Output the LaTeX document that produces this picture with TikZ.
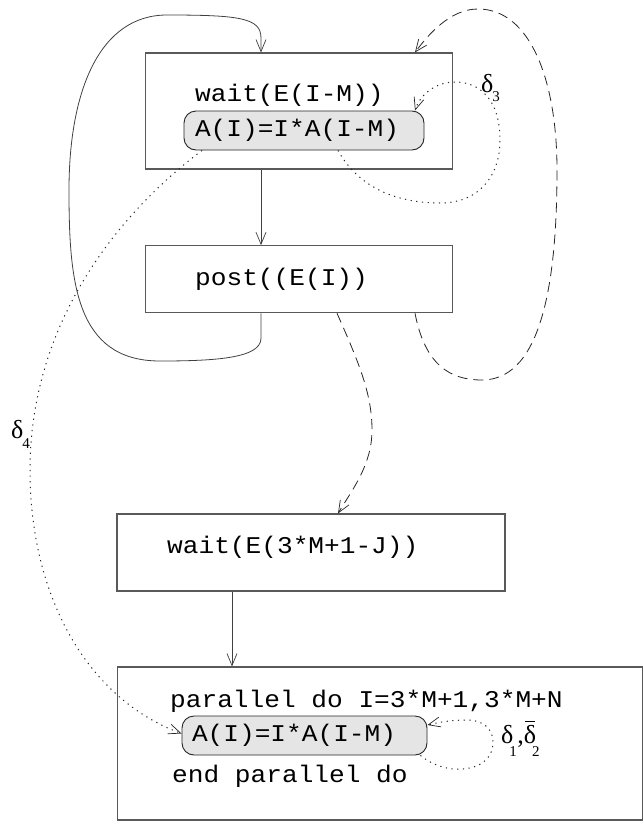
\documentclass[tikz,border=0pt]{standalone}
\usepackage{fontspec}
\setmainfont{Liberation Serif}
\newfontfamily\codefont[FakeStretch=1.09]{Liberation Mono}
\usetikzlibrary{arrows.meta}
\newcommand{\subsz}{\fontsize{15}{15}\selectfont}
\tikzset{
  boxn/.style={draw=black!65, line width=1.1pt, inner sep=0pt},
  stmt/.style={draw=black!85, line width=0.9pt, fill=black!10, rounded corners=12pt,
    inner ysep=0pt, align=left, font=\codefont\fontsize{24}{28}\selectfont},
  txt/.style={anchor=base west, inner sep=0pt, font=\codefont\fontsize{24}{28}\selectfont},
  tip/.style={-{Straight Barb[length=12pt,width=10pt,line width=0.7pt]}},
  solidc/.style={draw=black!75, line width=0.8pt},
  dashc/.style={draw=black!85, line width=0.8pt, dash pattern=on 10pt off 6pt},
  dotc/.style={draw=black!85, line width=1pt, dash pattern=on 1.2pt off 4.5pt},
  dlab/.style={anchor=base west, inner sep=0pt, font=\fontsize{26}{26}\selectfont},
}
\begin{document}
\begin{tikzpicture}[x=1pt,y=-1pt]
\useasboundingbox (0,0) rectangle (644,822);
% boxes
\node[boxn, minimum width=307pt, minimum height=116pt] (b1) at (299.3,111) {};
\node[boxn, minimum width=307pt, minimum height=67pt] (b2) at (299.3,279.2) {};
\node[boxn, minimum width=388pt, minimum height=77pt] (b3) at (311,552.5) {};
\node[boxn, minimum width=525pt, minimum height=153pt] (b4) at (380,743.5) {};
% statements
\node[stmt, minimum width=240pt, minimum height=39pt, inner xsep=11pt, text width=218pt] (r1) at (304,130.5) {A(I)=I*A(I-M)};
\node[stmt, minimum width=245pt, minimum height=39pt, inner xsep=10pt, text width=225pt] (r2) at (304.5,735.5) {A(I)=I*A(I-M)};
% texts
\node[txt] (t1) at (195,101.7) {wait(E(I-M))};
\node[txt] (t2) at (195,285) {post((E(I))};
\node[txt] (t3) at (167,553) {wait(E(3*M+1-J))};
\node[txt] (t4) at (170,707) {parallel do I=3*M+1,3*M+N};
\node[txt] (t5) at (172,782) {end parallel do};
% labels
\node[dlab] (d3) at (481,92) {δ\kern-1pt\raisebox{-9pt}{\subsz 3}};
\node[dlab] (d4) at (11,438) {δ\kern-1pt\raisebox{-10pt}{\subsz 4}};
\node[dlab] (d12) at (501,743) {δ\kern-4pt\raisebox{-13pt}{\subsz 1}\kern0.5pt,\rlap{\kern1.5pt\raisebox{21pt}{\rule{10pt}{0.8pt}}}δ\kern-4pt\raisebox{-13pt}{\subsz 2}};
% solid connectors
\draw[solidc, tip] ([xshift=-38.3pt]b1.south) -- ([xshift=-38.3pt]b2.north);
\draw[solidc, tip] ([xshift=-38.3pt]b2.south) -- ++(0,25)
  .. controls +(0,20) and (215,361) .. (160,361)
  .. controls (75,361) and (69,280) .. (69,190)
  .. controls (69,90) and (100,15) .. (167,15)
  .. controls (240,15) and (261,18) .. (261,38)
  -- ([xshift=-38.3pt]b1.north);
\draw[solidc, tip] ([xshift=-79pt]b3.south) -- ([xshift=-148pt]b4.north);
% dashed connectors
\draw[dashc, tip] ([xshift=115.7pt]b2.south)
  .. controls (425,365) and (450,380) .. (482,380)
  .. controls (545,380) and (557,270) .. (557,170)
  .. controls (557,80) and (530,9) .. (478,9)
  .. controls (450,9) and (428,35) .. ([xshift=115.7pt]b1.north);
\draw[dashc, tip] ([xshift=37.7pt]b2.south)
  .. controls (360,365) and (372,395) .. (372,430)
  .. controls (372,465) and (352,490) .. ([xshift=27pt]b3.north);
% dotted connectors
\draw[dotc, tip] ([xshift=-102pt]r1.south)
  .. controls (110,220) and (30,330) .. (30,470)
  .. controls (30,600) and (90,700) .. ([yshift=2pt]r2.west);
\draw[dotc, tip] ([xshift=34pt]r1.south)
  .. controls (360,190) and (400,203) .. (440,203)
  .. controls (480,203) and (500,175) .. (500,140)
  .. controls (500,100) and (480,82) .. (455,82)
  .. controls (435,82) and (420,95) .. ([xshift=111pt]r1.north);
\draw[dotc, tip] ([xshift=-7pt]r2.south east)
  .. controls (435,767) and (450,770) .. (463,769)
  .. controls (485,767) and (493,755) .. (493,742)
  .. controls (493,728) and (482,720) .. (467,720)
  .. controls (452,720) and (440,722) .. ([yshift=10.5pt]r2.east);
\end{tikzpicture}
\end{document}
